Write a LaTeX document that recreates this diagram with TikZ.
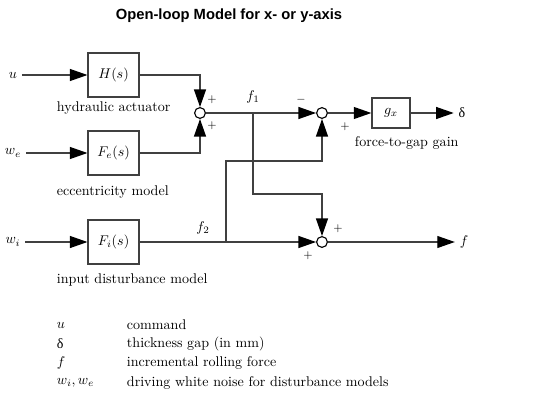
\documentclass[tikz,border=0pt]{standalone}
\usepackage{fontspec}
\newfontfamily\titlefont{Liberation Sans}
\newfontfamily\greekfont{Liberation Serif}
\usetikzlibrary{arrows.meta}

\tikzset{
  blockbox/.style={draw=black!75, line width=0.9pt, fill=white, minimum width=1.275cm, minimum height=1.1cm, inner sep=0pt},
  sumnode/.style={circle, draw=black, fill=white, line width=0.8pt, minimum size=0.27cm, inner sep=0pt},
  sig/.style={draw=black!75, line width=0.9pt, -{Triangle[length=12.5pt,width=8.5pt,color=black]}},
  sgn/.style={font=\footnotesize, inner sep=0pt},
}

\begin{document}
\begin{tikzpicture}
  \useasboundingbox (0,0) rectangle (13.5,-10.475);

  % Title
  \node[font=\titlefont\bfseries\fontsize{10.5}{12}\selectfont] (title) at (5.725,-0.4) {Open-loop Model for x- or y-axis};

  % Inputs and blocks
  \node (u) at (0.325,-1.875) {$u$};
  \node (we) at (0.325,-3.825) {$w_e$};
  \node (wi) at (0.325,-6.05) {$w_i$};

  \node[blockbox] (H) at (2.84,-1.875) {$H(s)$};
  \node[blockbox] (Fe) at (2.84,-3.825) {$F_e(s)$};
  \node[blockbox] (Fi) at (2.84,-6.05) {$F_i(s)$};

  \node[anchor=west] (Hlab) at (1.3,-2.7) {hydraulic actuator};
  \node[anchor=west] (Felab) at (1.3,-4.8) {eccentricity model};
  \node[anchor=west] (Filab) at (1.3,-7.0) {input disturbance model};

  % Summing junctions and gain
  \node[sumnode] (s1) at (5.0,-2.825) {};
  \node[sumnode] (s2) at (8.05,-2.825) {};
  \node[sumnode] (s3) at (8.05,-6.05) {};
  \node[blockbox, minimum width=0.95cm, minimum height=0.75cm] (gx) at (9.775,-2.825) {$g_x$};
  \node[anchor=west] (gxlab) at (8.75,-3.575) {force-to-gap gain};

  % Outputs
  \node (delta) at (11.55,-2.825) {\greekfont δ};
  \node (fout) at (11.6,-6.05) {$f$};

  % Branch points
  \coordinate (b1) at (6.325,-2.825);
  \coordinate (k1) at (6.325,-4.85);
  \coordinate (b2) at (5.65,-6.05);
  \coordinate (k2) at (5.65,-4.025);

  % Connections
  \draw[sig] (u) -- (H);
  \draw[sig] (we) -- (Fe);
  \draw[sig] (wi) -- (Fi);
  \draw[sig] (H.east) -| (s1.north);
  \draw[sig] (Fe.east) -| (s1.south);
  \draw[sig] (s1) -- (s2);
  \draw[sig] (b1) -- (k1) -| (s3.north);
  \draw[sig] (Fi) -- (s3);
  \draw[sig] (b2) -- (k2) -| (s2.south);
  \draw[sig] (s2) -- (gx);
  \draw[sig] (gx) -- (delta);
  \draw[sig] (s3) -- (fout);

  % Signal names and signs
  \node (f1) at (6.325,-2.43) {$f_1$};
  \node (f2) at (5.075,-5.7) {$f_2$};
  \node[sgn] (p1) at (5.3,-2.5) {$+$};
  \node[sgn] (p2) at (5.3,-3.15) {$+$};
  \node[sgn] (m3) at (7.525,-2.5) {$-$};
  \node[sgn] (p4) at (8.625,-3.175) {$+$};
  \node[sgn] (p5) at (8.45,-5.725) {$+$};
  \node[sgn] (p6) at (7.7,-6.4) {$+$};

  % Legend
  \node[anchor=west] (l1) at (1.3,-8.125) {$u$};
  \node[anchor=west] (l2) at (1.3,-8.6) {\greekfont δ};
  \node[anchor=west] (l3) at (1.3,-9.075) {$f$};
  \node[anchor=west] (l4) at (1.3,-9.575) {$w_i, w_e$};
  \node[anchor=west] (t1) at (3.05,-8.125) {command};
  \node[anchor=west] (t2) at (3.05,-8.6) {thickness gap (in mm)};
  \node[anchor=west] (t3) at (3.05,-9.075) {incremental rolling force};
  \node[anchor=west] (t4) at (3.05,-9.575) {driving white noise for disturbance models};
\end{tikzpicture}
\end{document}
